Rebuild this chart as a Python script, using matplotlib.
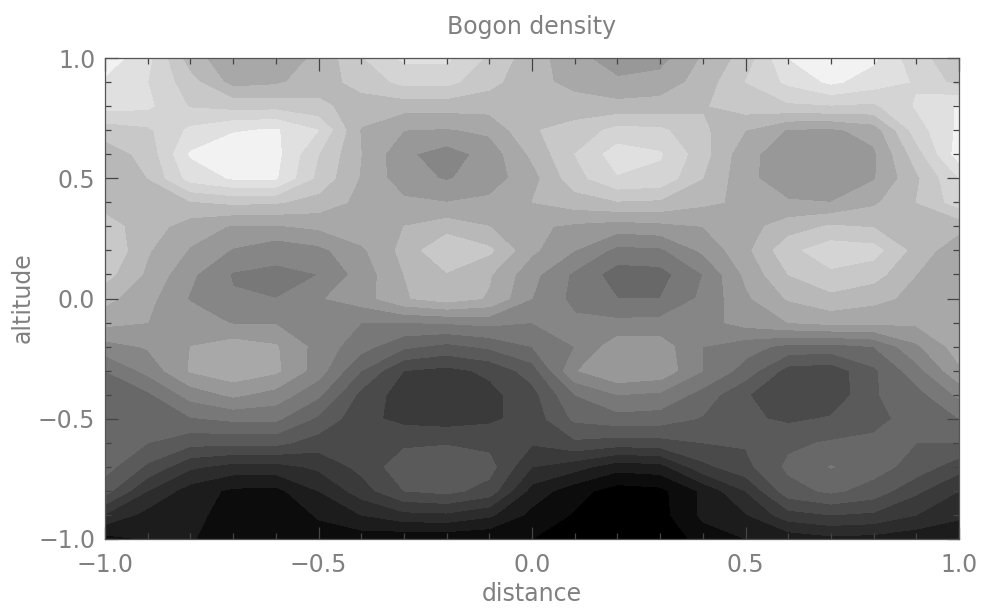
"""
Bogon density filled contour chart.
"""

import numpy as np
import matplotlib
matplotlib.use("Agg")
import matplotlib.pyplot as plt
from matplotlib.ticker import MultipleLocator

distance = [-1.0, -0.9, -0.8, -0.7, -0.6, -0.5, -0.4, -0.3, -0.2, -0.1, 0.0,
            0.1, 0.2, 0.3, 0.4, 0.5, 0.6, 0.7, 0.8, 0.9, 1.0]
altitude = [1.0, 0.9, 0.8, 0.7, 0.6, 0.5, 0.4, 0.3, 0.2, 0.1, 0.0,
            -0.1, -0.2, -0.3, -0.4, -0.5, -0.6, -0.7, -0.8, -0.9, -1.0]

# density, one row per altitude, in units of contour band
density = [
    [15.6, 14.3, 11.4, 10.3, 10.4, 11.2, 12.9, 14.2, 14.2, 12.8, 11.4, 10.4, 9.3, 9.6, 11.1, 12.4, 15.0, 15.6, 15.2, 13.3, 12.4],
    [14.8, 14.0, 12.4, 10.6, 10.8, 11.6, 12.3, 13.3, 13.3, 12.3, 11.3, 10.7, 10.2, 10.4, 11.4, 13.0, 14.2, 15.2, 14.5, 13.9, 12.6],
    [14.4, 14.2, 12.9, 12.6, 12.6, 12.2, 11.6, 11.4, 11.4, 11.4, 11.5, 11.4, 11.3, 11.4, 11.9, 12.5, 12.8, 12.9, 12.8, 14.1, 15.1],
    [12.4, 12.8, 14.2, 14.9, 15.1, 14.0, 10.9, 10.0, 9.9, 10.2, 11.9, 12.4, 13.3, 13.2, 12.2, 11.0, 9.9, 9.8, 10.4, 13.5, 15.2],
    [11.5, 12.3, 15.1, 15.7, 15.3, 13.0, 11.0, 9.2, 8.5, 9.4, 11.2, 13.0, 14.5, 14.1, 12.4, 10.3, 9.4, 9.1, 9.8, 12.5, 15.5],
    [11.5, 12.0, 14.4, 15.1, 15.1, 12.7, 10.9, 9.4, 8.9, 9.5, 10.6, 12.6, 13.9, 13.7, 12.0, 10.3, 9.3, 9.0, 9.9, 11.8, 14.0],
    [11.6, 11.6, 11.9, 12.2, 12.1, 11.6, 10.7, 10.2, 10.0, 10.2, 11.0, 11.5, 11.9, 11.8, 11.2, 10.8, 10.1, 10.0, 10.8, 12.0, 13.5],
    [12.4, 11.5, 10.5, 9.9, 9.9, 10.2, 10.7, 11.0, 11.5, 11.0, 10.2, 9.8, 9.5, 9.7, 10.0, 10.6, 11.5, 12.1, 11.9, 11.2, 11.3],
    [13.0, 11.1, 9.9, 8.9, 8.3, 8.7, 9.8, 11.3, 13.0, 12.2, 10.2, 9.0, 7.7, 7.8, 9.2, 10.7, 12.7, 13.6, 13.4, 11.6, 10.3],
    [12.4, 10.8, 9.2, 7.9, 7.8, 8.0, 9.4, 11.0, 11.9, 11.1, 9.3, 7.8, 6.5, 6.6, 8.0, 10.2, 12.0, 12.8, 12.4, 11.0, 10.2],
    [11.3, 10.3, 8.9, 8.1, 8.0, 8.9, 9.5, 10.9, 11.5, 10.9, 9.0, 7.7, 7.0, 7.0, 8.2, 9.8, 11.1, 11.7, 11.3, 10.7, 10.4],
    [10.3, 10.0, 9.6, 8.9, 8.9, 9.0, 8.0, 8.0, 8.1, 8.3, 8.0, 8.2, 8.2, 8.3, 8.6, 9.4, 10.0, 10.3, 10.2, 10.2, 10.4],
    [8.6, 9.1, 10.0, 10.5, 10.1, 8.6, 7.4, 6.2, 5.7, 6.2, 7.0, 8.0, 9.6, 9.5, 8.0, 7.4, 6.7, 6.6, 7.0, 8.8, 10.5],
    [7.0, 8.3, 10.1, 10.7, 10.2, 8.5, 6.0, 4.0, 3.7, 4.2, 5.5, 8.9, 10.0, 9.7, 8.0, 6.6, 4.6, 4.4, 5.8, 7.6, 9.8],
    [6.5, 6.8, 8.4, 9.2, 8.6, 7.2, 4.7, 3.5, 3.0, 3.7, 4.6, 7.0, 8.0, 7.8, 6.6, 5.1, 4.1, 4.2, 5.9, 6.6, 8.2],
    [6.5, 6.4, 6.9, 7.2, 7.2, 5.8, 4.3, 3.7, 3.5, 3.8, 4.4, 6.2, 6.6, 6.5, 5.9, 5.2, 4.8, 5.1, 5.7, 6.4, 7.0],
    [6.6, 6.0, 5.3, 5.3, 5.3, 4.5, 4.3, 4.8, 4.9, 4.7, 4.1, 4.8, 4.5, 4.6, 5.0, 5.1, 5.8, 6.1, 6.2, 6.0, 6.0],
    [6.4, 4.8, 3.2, 2.6, 2.6, 3.2, 4.3, 5.6, 5.9, 5.4, 3.0, 2.4, 1.4, 1.6, 3.7, 4.7, 6.2, 7.05, 6.4, 5.6, 4.4],
    [5.4, 3.0, 1.5, 0.8, 0.7, 2.0, 3.5, 5.0, 5.3, 4.6, 1.6, 0.4, -0.5, -0.3, 1.2, 3.0, 5.6, 6.2, 5.6, 4.2, 3.0],
    [2.9, 1.6, 1.4, 0.4, 0.3, 1.1, 2.0, 2.7, 2.8, 2.2, 0.7, -0.1, -0.8, -0.4, 1.2, 1.9, 3.6, 4.0, 3.8, 3.0, 2.2],
    [0.6, 1.1, 1.1, 0.3, 0.3, 0.6, 0.4, 0.2, 0.2, 0.1, 0.0, -0.3, -1.0, -1.0, 0.5, 1.0, 1.3, 1.7, 1.6, 1.3, 1.2],
]

band_edges = list(range(-1, 17))
band_greys = [0, 12, 28, 44, 58, 74, 90, 104, 120, 134, 152, 168, 184, 200, 212, 224, 242]

TEXT_COLOR = "#808080"
plt.rcParams["font.family"] = ["DejaVu Sans"]
plt.rcParams["font.size"] = 17

fig = plt.figure(figsize=(9.84, 6.08), dpi=100)
ax = fig.add_axes([105 / 984, 69 / 608, 854 / 984, 481 / 608])

colors = [(g / 255, g / 255, g / 255) for g in band_greys]
ax.contourf(distance, altitude, np.array(density), levels=band_edges, colors=colors)

ax.set_xlim(-1, 1)
ax.set_ylim(-1, 1)
ax.xaxis.set_major_locator(MultipleLocator(0.5))
ax.yaxis.set_major_locator(MultipleLocator(0.5))
ax.xaxis.set_minor_locator(MultipleLocator(0.1))
ax.yaxis.set_minor_locator(MultipleLocator(0.1))
ax.tick_params(which="major", direction="in", length=9, width=0.9, color="#444444",
               top=True, right=True, labelcolor=TEXT_COLOR)
ax.tick_params(which="minor", direction="in", length=4.5, width=0.9, color="#444444",
               top=True, right=True)
ax.tick_params(axis="x", which="major", pad=10)
ax.tick_params(axis="y", which="major", pad=7)
for spine in ax.spines.values():
    spine.set_linewidth(0.9)
    spine.set_color("#555555")

fig.text(532 / 984, 1 - 27 / 608, "Bogon density", ha="center", va="center",
         color=TEXT_COLOR, fontsize=17)
fig.text(532 / 984, 1 - 594 / 608, "distance", ha="center", va="center",
         color=TEXT_COLOR, fontsize=17)
fig.text(23 / 984, 1 - 298 / 608, "altitude", ha="center", va="center", rotation=90,
         color=TEXT_COLOR, fontsize=17)

fig.savefig("out.png", dpi=100)
